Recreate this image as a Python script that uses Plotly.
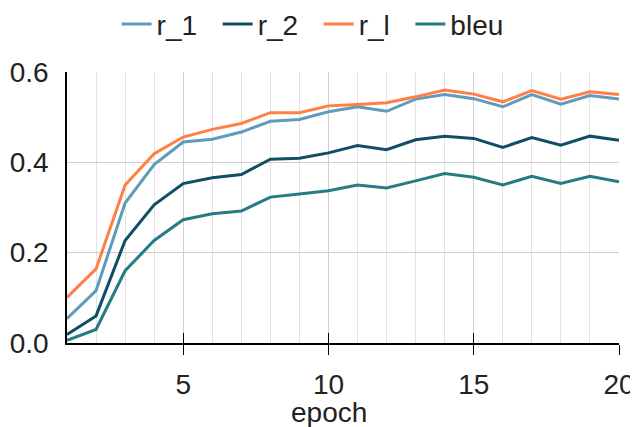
import plotly.graph_objects as go

epochs = list(range(1, 21))
r_1 = [0.054, 0.116, 0.310, 0.395, 0.445, 0.451, 0.467, 0.491, 0.495, 0.512,
       0.523, 0.513, 0.540, 0.550, 0.541, 0.523, 0.550, 0.529, 0.548, 0.540]
r_2 = [0.019, 0.060, 0.227, 0.306, 0.353, 0.366, 0.373, 0.407, 0.409, 0.421,
       0.437, 0.428, 0.450, 0.458, 0.453, 0.433, 0.455, 0.438, 0.458, 0.449]
r_l = [0.101, 0.164, 0.350, 0.419, 0.456, 0.473, 0.486, 0.510, 0.510, 0.525,
       0.528, 0.532, 0.545, 0.560, 0.551, 0.534, 0.559, 0.540, 0.556, 0.550]
bleu = [0.006, 0.030, 0.160, 0.227, 0.273, 0.286, 0.292, 0.323, 0.330, 0.337,
        0.350, 0.343, 0.359, 0.375, 0.367, 0.350, 0.369, 0.353, 0.369, 0.357]
x_ticks = [5, 10, 15, 20]
y_ticks = [0.0, 0.2, 0.4, 0.6]

series = [("r_1", r_1, "#5f9bba"), ("r_2", r_2, "#124d66"),
          ("r_l", r_l, "#ff7f46"), ("bleu", bleu, "#257c84")]

PAD = "\u00a0\u00a0"  # extra spacing between legend entries

fig = go.Figure()
for name, vals, col in series:
    fig.add_trace(go.Scatter(x=epochs, y=vals, mode="lines", name=name + PAD,
                             line=dict(color=col, width=3)))
# invisible trace hosting an overlay axis that draws the inner half of the x ticks
fig.add_trace(go.Scatter(x=[epochs[0]], y=[r_1[0]], xaxis="x2", mode="lines",
                         showlegend=False, hoverinfo="skip", opacity=0))

font = dict(family="Liberation Sans, Arial, sans-serif", size=28, color="#222222")
fig.update_layout(
    width=638, height=427,
    margin=dict(l=59, r=27, t=64, b=92, autoexpand=False),
    paper_bgcolor="white", plot_bgcolor="white",
    font=font,
    showlegend=True,
    legend=dict(orientation="h", x=0.49, xanchor="center", xref="container",
                y=0.962, yanchor="middle", yref="container", font=font,
                itemwidth=30, tracegroupgap=0, bgcolor="rgba(0,0,0,0)"),
    xaxis=dict(range=[1, 20], tickvals=x_ticks, ticks="outside", ticklen=10,
               tickcolor="black", tickwidth=1.3, automargin=False,
               showline=True, linecolor="black", linewidth=1.5,
               showgrid=True, gridcolor="#cfcfcf", gridwidth=1,
               minor=dict(tickmode="linear", tick0=1, dtick=1, showgrid=True,
                          gridcolor="#e3e3e3", gridwidth=1),
               zeroline=False, ticklabelstandoff=6),
    xaxis2=dict(overlaying="x", matches="x", anchor="y", side="bottom",
                tickvals=x_ticks, ticks="inside", ticklen=10,
                tickcolor="black", tickwidth=1.3, showticklabels=False,
                showgrid=False, zeroline=False, showline=False, automargin=False),
    yaxis=dict(range=[0, 0.6], tickvals=y_ticks, tickformat=".1f",
               showline=True, linecolor="black", linewidth=1.5, automargin=False,
               showgrid=True, gridcolor="#cfcfcf", gridwidth=1,
               zeroline=False, ticks="", ticklabelstandoff=11),
    annotations=[dict(text="epoch", xref="paper", yref="paper", x=0.475, y=-0.258,
                      xanchor="center", yanchor="middle", showarrow=False, font=font)],
)
fig.write_html("out.html")
